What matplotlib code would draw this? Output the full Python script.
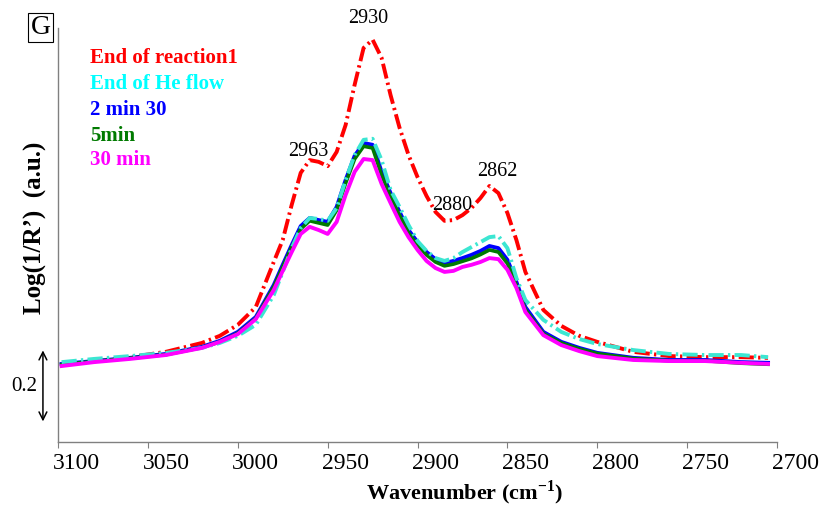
import matplotlib
matplotlib.use("Agg")
import matplotlib.pyplot as plt
from matplotlib.transforms import ScaledTranslation

plt.rcParams['font.family'] = ['Liberation Serif', 'DejaVu Serif']
plt.rcParams['mathtext.fontset'] = 'custom'
plt.rcParams['mathtext.rm'] = 'Liberation Serif'
plt.rcParams['mathtext.bf'] = 'Liberation Serif:bold'

# wavenumber grid (cm-1) and spectra (a.u.)
wavenumber = [3098, 3080, 3060, 3040, 3020, 3010, 3000, 2990, 2980, 2975,
              2970, 2965, 2960, 2955, 2950, 2945, 2940, 2935, 2930, 2925,
              2920, 2915, 2910, 2905, 2900, 2895, 2890, 2885, 2880, 2875,
              2870, 2865, 2860, 2855, 2850, 2845, 2840, 2830, 2820, 2810,
              2800, 2780, 2760, 2740, 2720, 2705]

end_reaction = [0.217, 0.228, 0.239, 0.254, 0.279, 0.299, 0.330, 0.380, 0.507, 0.569,
                0.668, 0.758, 0.794, 0.789, 0.777, 0.817, 0.893, 1.006, 1.110, 1.133,
                1.082, 0.977, 0.885, 0.808, 0.746, 0.693, 0.648, 0.623, 0.625, 0.639,
                0.659, 0.687, 0.721, 0.701, 0.645, 0.569, 0.479, 0.372, 0.327, 0.299,
                0.282, 0.254, 0.242, 0.239, 0.239, 0.237]

end_he = [0.225, 0.234, 0.242, 0.251, 0.265, 0.279, 0.299, 0.330, 0.414, 0.479,
          0.546, 0.603, 0.631, 0.628, 0.623, 0.659, 0.738, 0.808, 0.851, 0.854,
          0.794, 0.710, 0.662, 0.611, 0.566, 0.538, 0.518, 0.510, 0.518, 0.535,
          0.549, 0.563, 0.577, 0.580, 0.546, 0.462, 0.400, 0.344, 0.310, 0.290,
          0.276, 0.259, 0.248, 0.245, 0.245, 0.239]

min_2_30 = [0.220, 0.228, 0.237, 0.248, 0.268, 0.285, 0.310, 0.352, 0.442, 0.499,
            0.555, 0.608, 0.631, 0.625, 0.620, 0.662, 0.738, 0.806, 0.842, 0.837,
            0.761, 0.701, 0.648, 0.597, 0.563, 0.535, 0.515, 0.504, 0.510, 0.518,
            0.527, 0.538, 0.552, 0.546, 0.513, 0.451, 0.380, 0.310, 0.282, 0.265,
            0.251, 0.237, 0.231, 0.231, 0.225, 0.223]

min_5 = [0.218, 0.227, 0.236, 0.246, 0.266, 0.282, 0.306, 0.348, 0.437, 0.493,
         0.549, 0.600, 0.623, 0.617, 0.611, 0.653, 0.729, 0.797, 0.833, 0.828,
         0.752, 0.692, 0.639, 0.589, 0.555, 0.527, 0.507, 0.496, 0.501, 0.509,
         0.517, 0.528, 0.541, 0.535, 0.503, 0.442, 0.373, 0.305, 0.279, 0.262,
         0.249, 0.235, 0.229, 0.229, 0.222, 0.219]

min_30 = [0.214, 0.225, 0.234, 0.245, 0.265, 0.282, 0.304, 0.346, 0.428, 0.482,
          0.535, 0.586, 0.606, 0.597, 0.586, 0.620, 0.696, 0.761, 0.797, 0.794,
          0.727, 0.673, 0.620, 0.577, 0.541, 0.510, 0.490, 0.479, 0.482, 0.493,
          0.499, 0.507, 0.518, 0.515, 0.485, 0.434, 0.366, 0.301, 0.273, 0.256,
          0.242, 0.231, 0.228, 0.228, 0.223, 0.220]

xticks = [3100, 3050, 3000, 2950, 2900, 2850, 2800, 2750, 2700]

labels = ['End of reaction1', 'End of He flow', '2 min 30', '5min', '30 min']
line_colors = ['#FF0000', '#3CE6D2', '#0000FF', '#007A00', '#FF00FF']
text_colors = ['#FF0000', '#00FFFF', '#0000FF', '#007A00', '#FF00FF']
label_rows = [58, 84, 110, 136, 160]   # pixel rows of the coloured labels

peaks = [2930, 2963, 2880, 2862]
peak_pos = [(2927.5, 1.194), (2961, 0.817), (2880.5, 0.665), (2855.5, 0.761)]

fig = plt.figure(figsize=(8.22, 5.09), dpi=100)
ax = fig.add_axes([0.0706, 0.1316, 0.8747, 0.8134])

dashdot = (3.9, 1.1, 0.6, 1.1)
ax.plot(wavenumber, end_reaction, color=line_colors[0], lw=2.8, dashes=dashdot,
        dash_capstyle='butt', zorder=2)
ax.plot(wavenumber, min_2_30, color=line_colors[2], lw=2.8, zorder=3,
        solid_joinstyle='round')
ax.plot(wavenumber, min_5, color=line_colors[3], lw=2.6, zorder=4,
        solid_joinstyle='round')
ax.plot(wavenumber, end_he, color=line_colors[1], lw=2.8, dashes=dashdot,
        dash_capstyle='butt', zorder=5)
ax.plot(wavenumber, min_30, color=line_colors[4], lw=2.8, zorder=6,
        solid_joinstyle='round')

ax.set_xlim(3100, 2700)
ax.set_ylim(0, 1.166)
ax.set_xticks(xticks, [str(t) for t in xticks], fontsize=17)
ax.set_yticks([])
ax.tick_params(axis='x', direction='out', length=4, color='#808080', pad=4)
# tick labels sit slightly right of their ticks in the original
shift = ScaledTranslation(0.18, 0, fig.dpi_scale_trans)
for lbl in ax.get_xticklabels():
    lbl.set_transform(lbl.get_transform() + shift)
for s in ['top', 'right']:
    ax.spines[s].set_visible(False)
for s in ['left', 'bottom']:
    ax.spines[s].set_color('#808080')
    ax.spines[s].set_linewidth(1.0)

# coloured series names in place of a legend
for name, c, row in zip(labels, text_colors, label_rows):
    fig.text(90 / 822, 1 - row / 509, name, color=c, ha='left', va='center',
             fontsize=15, fontweight='bold')

for p, (px, py) in zip(peaks, peak_pos):
    ax.text(px, py, str(p), ha='center', va='center', fontsize=14.5, clip_on=False)

# scale bar 0.2 a.u.
ax.annotate('', xy=(-0.021, 0.058), xytext=(-0.021, 0.258),
            xycoords=('axes fraction', 'data'), textcoords=('axes fraction', 'data'),
            arrowprops=dict(arrowstyle='<->', lw=1.1, color='black',
                            mutation_scale=14, shrinkA=0, shrinkB=0),
            annotation_clip=False)
ax.text(-0.047, 0.155, '0.2', transform=ax.get_yaxis_transform(), ha='center',
        va='center', fontsize=15)

fig.text(465 / 822, 16 / 509, r'Wavenumber (cm$^{\mathbf{-1}}$)', ha='center',
         va='center', fontsize=16, fontweight='bold')
fig.text(35 / 822, 1 - 228 / 509, 'Log(1/R\u2019)  (a.u.)', rotation=90,
         ha='center', va='center', fontsize=18, fontweight='bold')
fig.text(40.5 / 822, 1 - 27.5 / 509, 'G', ha='center', va='center', fontsize=20,
         bbox=dict(boxstyle='square,pad=0.08', fc='white', ec='black', lw=0.8))

fig.savefig('out.png', dpi=100)
